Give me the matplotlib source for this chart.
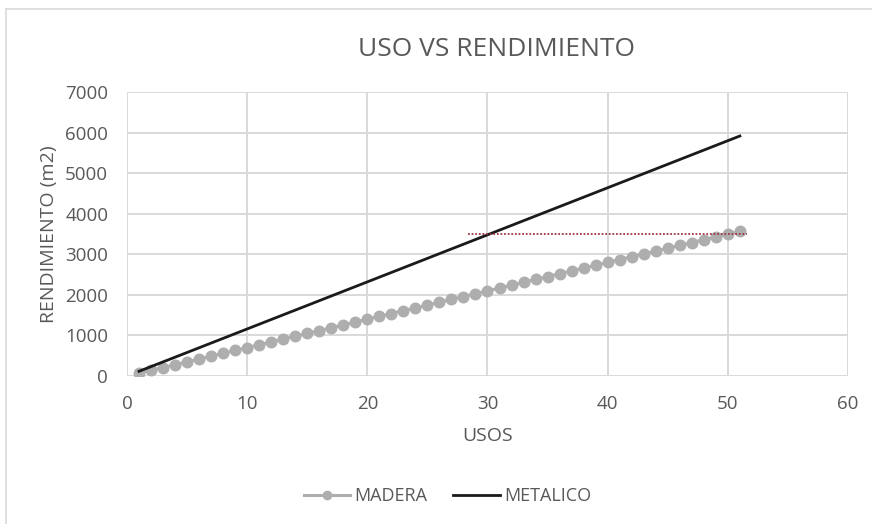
import matplotlib.pyplot as plt
from matplotlib.lines import Line2D

usos = list(range(1, 52))
madera = [70, 140, 210, 280, 350, 420, 490, 560, 630, 700,
          770, 840, 910, 980, 1050, 1120, 1190, 1260, 1330, 1400,
          1470, 1540, 1610, 1680, 1750, 1820, 1890, 1960, 2030, 2100,
          2170, 2240, 2310, 2380, 2450, 2520, 2590, 2660, 2730, 2800,
          2870, 2940, 3010, 3080, 3150, 3220, 3290, 3360, 3430, 3500,
          3570]
metalico = [116, 232, 348, 464, 580, 696, 812, 928, 1044, 1160,
            1276, 1392, 1508, 1624, 1740, 1856, 1972, 2088, 2204, 2320,
            2436, 2552, 2668, 2784, 2900, 3016, 3132, 3248, 3364, 3480,
            3596, 3712, 3828, 3944, 4060, 4176, 4292, 4408, 4524, 4640,
            4756, 4872, 4988, 5104, 5220, 5336, 5452, 5568, 5684, 5800,
            5916]
ref_x = [28.4, 51.6]
ref_y = [3500, 3500]

plt.rcParams["font.family"] = ["Open Sans", "DejaVu Sans"]
text_color = "#595959"
grid_color = "#D9D9D9"
gris = "#AEAEAE"

fig = plt.figure(figsize=(8.72, 5.24), dpi=100)
ax = fig.add_axes([0.1456, 0.2824, 0.8269, 0.542])

ax.plot(usos, madera, color=gris, linewidth=2.2, marker="o",
        markersize=8.6, markeredgewidth=0, zorder=3)
ax.plot(usos, metalico, color="#1A1A1A", linewidth=2.0, zorder=4)
ax.plot(ref_x, ref_y, color="#A03444", linestyle=(0, (1, 1)), linewidth=1.3, zorder=5)

ax.set_xlim(0, 60)
ax.set_ylim(0, 7000)
ax.set_xticks(range(0, 61, 10))
ax.set_yticks(range(0, 7001, 1000))
ax.grid(True, color=grid_color, linewidth=1.4)
ax.set_axisbelow(True)
for s in ax.spines.values():
    s.set_visible(False)
ax.tick_params(length=0, labelsize=13.5, colors=text_color, pad=13.5)

ax.set_xlabel("USOS", fontsize=14, color=text_color)
ax.xaxis.set_label_coords(0.5, -0.18)
ax.set_ylabel("RENDIMIENTO (m2)", fontsize=14, color=text_color, va="center")
ax.yaxis.set_label_coords(-0.1075, 0.5)
fig.text(0.569, 0.9046, "USO VS RENDIMIENTO", ha="center", va="center",
         fontsize=19, color=text_color)

handles = [Line2D([], [], color=gris, linewidth=2.2, marker="o", markersize=7,
                  markeredgewidth=0),
           Line2D([], [], color="#1A1A1A", linewidth=2.0)]
fig.legend(handles, ["MADERA", "METALICO"], loc="center", bbox_to_anchor=(0.513, 0.053),
           ncol=2, frameon=False, fontsize=13, labelcolor=text_color,
           handlelength=2.6, handletextpad=0.23, columnspacing=1.4)

# borde del área del gráfico (arriba e izquierda)
fig.add_artist(Line2D([0.0069, 1], [0.982, 0.982], color=grid_color, linewidth=1.2))
fig.add_artist(Line2D([0.0069, 0.0069], [0, 0.982], color=grid_color, linewidth=1.2))

fig.savefig("out.png", dpi=100)
